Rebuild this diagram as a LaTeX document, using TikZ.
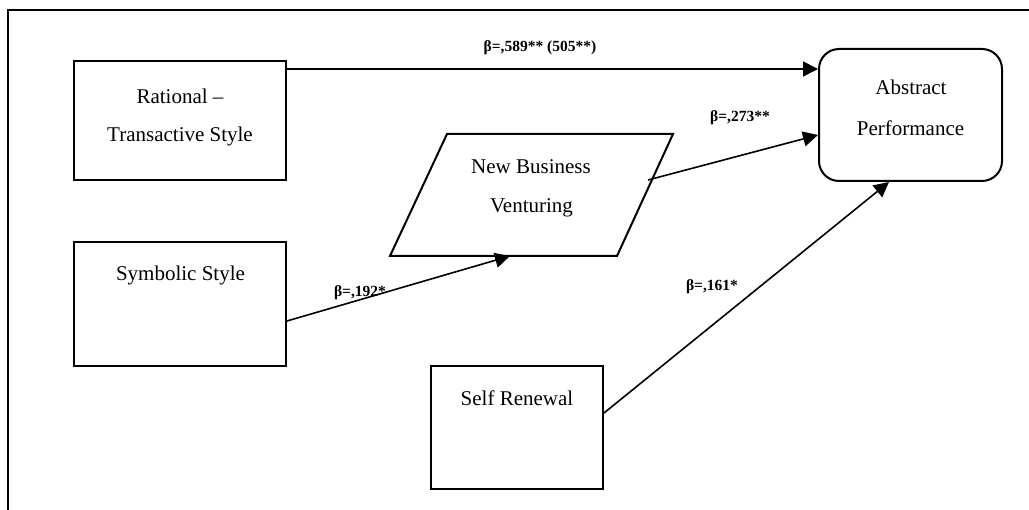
\documentclass[tikz,border=0pt]{standalone}
\usepackage{fontspec}
\setmainfont{Liberation Serif}
\usetikzlibrary{arrows.meta,calc}
\begin{document}
\begin{tikzpicture}[x=1pt,y=-1pt,
  box/.style={draw,line width=2pt,minimum width=#1,inner sep=0pt},
  lbl/.style={font=\fontsize{21}{25}\selectfont,inner sep=0pt},
  coef/.style={font=\fontsize{15.5}{18}\selectfont\bfseries,inner sep=0pt},
  arr/.style={line width=1.6pt,-{Triangle[length=15pt,width=15pt]}}]
\useasboundingbox (0,0) rectangle (1029,510);
\draw[line width=1.5pt] (8,510) -- (8,10) -- (1029,10);
% boxes
\node[box=212pt,minimum height=119pt] (rat) at (180,120.5) {};
\node[box=212pt,minimum height=124pt] (sym) at (180,304) {};
\node[box=172pt,minimum height=123pt] (self) at (517,427.5) {};
\node[box=183pt,minimum height=132pt,rounded corners=20pt] (abs) at (910.5,115) {};
\draw[line width=2pt,line join=miter] (447,134) -- (673,134) -- (617,256) -- (390,256) -- cycle;
\coordinate (nbvB) at (510,256);
\coordinate (nbvR) at (648,180);
% texts
\node[lbl] (t1) at (180,96) {Rational –};
\node[lbl] (t2) at (180,136) {Transactive Style};
\node[lbl] (t3) at (180.5,275) {Symbolic Style};
\node[lbl] (t4) at (531,167) {New Business};
\node[lbl] (t5) at (531.5,208) {Venturing};
\node[lbl] (t6) at (911,87) {Abstract};
\node[lbl] (t7) at (910.5,128) {Performance};
\node[lbl] (t8) at (517,398) {Self Renewal};
% connectors
\coordinate (r1) at ([yshift=-9pt]rat.north east);
\draw[arr] (r1) -- (abs.west |- r1);
\draw[arr] ([yshift=-80pt]sym.north east) -- (nbvB);
\draw[arr] (nbvR) -- ([yshift=-20pt]abs.west);
\draw[arr] ([yshift=-48pt]self.north east) -- ([xshift=-21.5pt]abs.south);
% coefficients
\node[coef] (c1) at (540,48) {β=,589** (505**)};
\node[coef] (c2) at (740,118) {β=,273**};
\node[coef] (c3) at (360,293) {β=,192*};
\node[coef] (c4) at (712,287) {β=,161*};
\end{tikzpicture}
\end{document}
